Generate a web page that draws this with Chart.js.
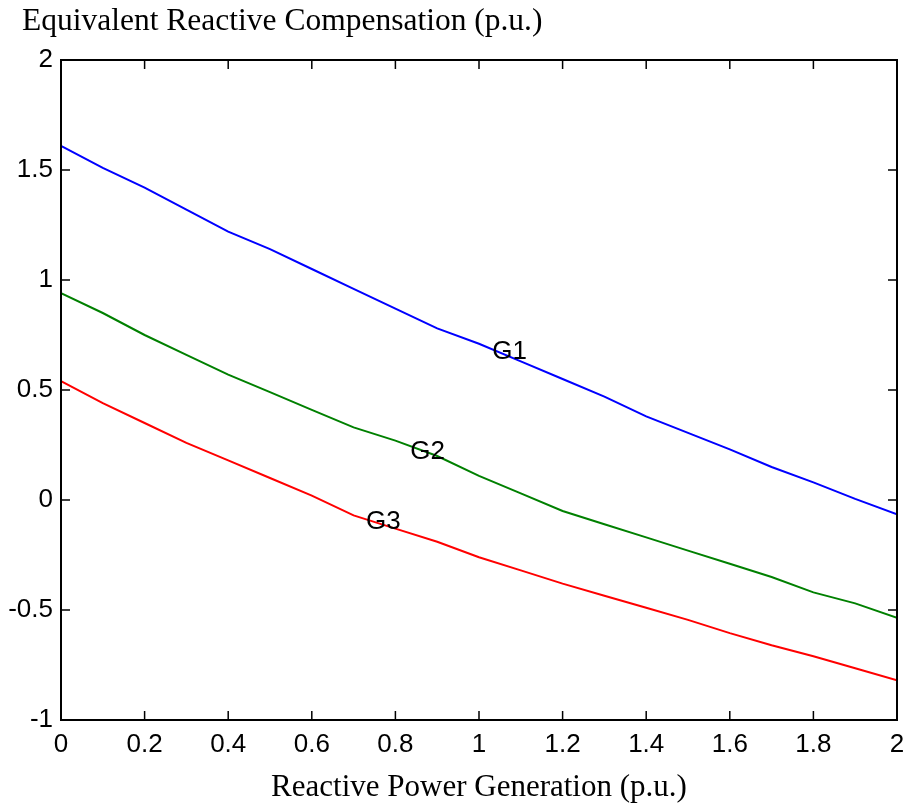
<!DOCTYPE html>
<html>
<head>
<meta charset="utf-8">
<script src="https://cdn.jsdelivr.net/npm/chart.js@4.4.0/dist/chart.umd.min.js"></script>
<style>
  html, body { margin:0; padding:0; background:#fff; }
  .wrap { width:908px; height:803px; position:relative; }
</style>
</head>
<body>
<div class="wrap"><canvas id="compChart"></canvas></div>
<script>
const xValues = [0,0.1,0.2,0.3,0.4,0.5,0.6,0.7,0.8,0.9,1.0,1.1,1.2,1.3,1.4,1.5,1.6,1.7,1.8,1.9,2.0];
const g1 = [1.61,1.51,1.42,1.32,1.22,1.14,1.05,0.96,0.87,0.78,0.71,0.63,0.55,0.47,0.38,0.305,0.23,0.15,0.08,0.005,-0.065];
const g2 = [0.94,0.85,0.75,0.66,0.57,0.49,0.41,0.33,0.27,0.20,0.11,0.03,-0.05,-0.11,-0.17,-0.23,-0.29,-0.35,-0.42,-0.47,-0.535];
const g3 = [0.54,0.44,0.35,0.26,0.18,0.10,0.02,-0.07,-0.13,-0.19,-0.26,-0.32,-0.38,-0.435,-0.49,-0.545,-0.605,-0.66,-0.71,-0.765,-0.82];

const xTicks = [0,0.2,0.4,0.6,0.8,1,1.2,1.4,1.6,1.8,2];
const yTicks = [-1,-0.5,0,0.5,1,1.5,2];

// where the curve names sit, in data units
const seriesNames = ["G1","G2","G3"];
const nameX = [1.073,0.877,0.771];
const nameY = [0.673,0.218,-0.10];

const yTitle = "Equivalent Reactive Compensation (p.u.)";
const xTitle = "Reactive Power Generation (p.u.)";

const ctx = document.getElementById("compChart");
const sans = "'Liberation Sans', Arial, sans-serif";
const serif = "'Liberation Serif', 'Times New Roman', serif";

function pts(ys){ return xValues.map((x,i)=>({x:x,y:ys[i]})); }

// MATLAB-like box with ticks pointing inward, curve names, and the y title above the box
const boxTicks = {
  id:"boxTicks",
  afterDraw(chart){
    const c = chart.ctx, a = chart.chartArea;
    const sx = chart.scales.x, sy = chart.scales.y;
    const len = 9;
    c.save();
    c.strokeStyle = "#000";
    c.lineWidth = 2;
    c.strokeRect(a.left, a.top, a.right-a.left, a.bottom-a.top);
    c.lineWidth = 1.5;
    c.beginPath();
    xTicks.forEach(v=>{
      const p = sx.getPixelForValue(v);
      c.moveTo(p, a.bottom); c.lineTo(p, a.bottom-len);
      c.moveTo(p, a.top); c.lineTo(p, a.top+len);
    });
    yTicks.forEach(v=>{
      const p = sy.getPixelForValue(v);
      c.moveTo(a.left, p); c.lineTo(a.left+len, p);
      c.moveTo(a.right, p); c.lineTo(a.right-len, p);
    });
    c.stroke();

    c.fillStyle = "#000";
    c.font = "26px " + sans;
    c.textAlign = "center";
    c.textBaseline = "middle";
    seriesNames.forEach((n,i)=>{
      c.fillText(n, sx.getPixelForValue(nameX[i]), sy.getPixelForValue(nameY[i]));
    });

    c.font = "31.5px " + serif;
    c.textAlign = "left";
    c.textBaseline = "alphabetic";
    c.fillText(yTitle, 22, 30);
    c.restore();
  }
};

const fmt = v => String(Math.round(v*10)/10);

new Chart(ctx,{
  type:"line",
  data:{
    datasets:[
      { label:"G1", data:pts(g1), borderColor:"#0000ff" },
      { label:"G2", data:pts(g2), borderColor:"#008000" },
      { label:"G3", data:pts(g3), borderColor:"#ff0000" }
    ]
  },
  options:{
    responsive:true,
    maintainAspectRatio:false,
    animation:false,
    layout:{ padding:{ left:0, right:11, top:60, bottom:0 } },
    elements:{
      line:{ borderWidth:2, tension:0, fill:false },
      point:{ radius:0, hoverRadius:0 }
    },
    plugins:{
      legend:{ display:false },
      tooltip:{ enabled:false },
      title:{ display:false }
    },
    scales:{
      x:{
        type:"linear", min:0, max:2,
        afterBuildTicks: s => { s.ticks = xTicks.map(v=>({value:v})); },
        afterFit: s => { s.height = 83; s.paddingLeft = 0; s.paddingRight = 0; },
        grid:{ display:false, drawTicks:false },
        border:{ display:false },
        ticks:{ color:"#000", padding:9, maxRotation:0, autoSkip:false,
          font:{ family:sans, size:26 }, callback:fmt },
        title:{ display:true, text:xTitle, color:"#000",
          font:{ family:serif, size:31, lineHeight:1 },
          padding:{ top:0, bottom:0 } }
      },
      y:{
        type:"linear", min:-1, max:2,
        afterBuildTicks: s => { s.ticks = yTicks.map(v=>({value:v})); },
        afterFit: s => { s.width = 61; s.paddingTop = 0; s.paddingBottom = 0; },
        grid:{ display:false, drawTicks:false },
        border:{ display:false },
        ticks:{ color:"#000", padding:8, autoSkip:false,
          font:{ family:sans, size:26 }, callback:fmt }
      }
    }
  },
  plugins:[boxTicks]
});
</script>
</body>
</html>
